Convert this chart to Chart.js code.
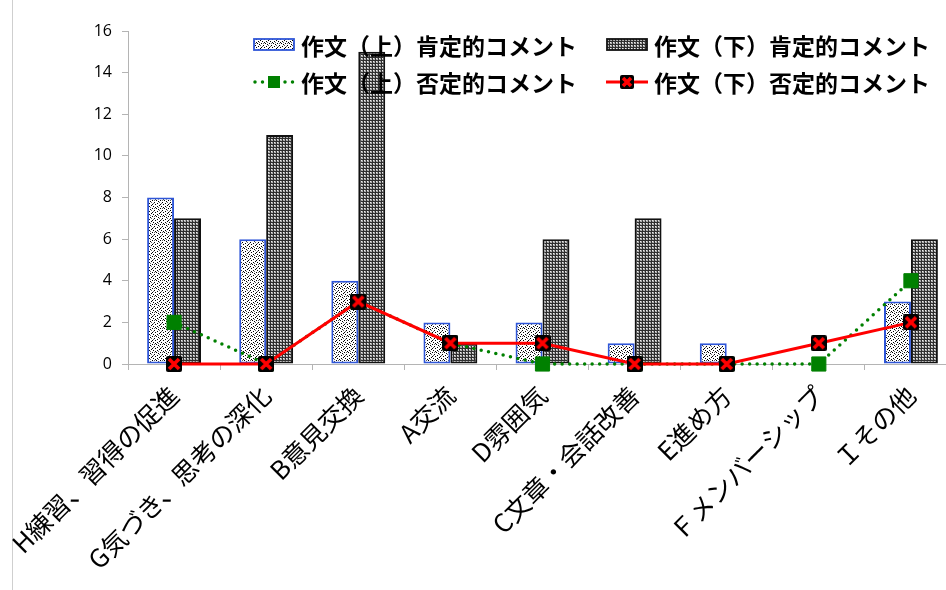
<!DOCTYPE html>
<html>
<head>
<meta charset="utf-8">
<script src="https://cdn.jsdelivr.net/npm/chart.js@4"></script>
<style>
  html, body { margin: 0; padding: 0; background: #fff; overflow: hidden; width: 946px; height: 590px; }
  #wrap { position: relative; width: 946px; height: 590px; overflow: hidden; background: #fff; }
  #frame { position: absolute; left: 12px; top: 0; width: 1px; height: 590px; background: #cfcfcf; z-index: 0; }
  #chart { position: absolute; left: 0; top: 0; z-index: 1; }
  #legend { position: absolute; left: 0; top: 0; z-index: 3; }
  .lg { position: absolute; height: 32px; display: flex; align-items: center; white-space: nowrap;
        font-family: "Noto Sans CJK JP", sans-serif; font-weight: bold; font-size: 23px; color: #000; }
  .lg canvas { margin-right: 6px; }
</style>
</head>
<body>
<div id="wrap">
  <div id="frame"></div>
  <canvas id="chart" width="968" height="590"></canvas>
  <div id="legend"></div>
</div>
<script>
// Categories on the horizontal axis
const categories = [
  'H練習、習得の促進',
  'G気づき、思考の深化',
  'B意見交換',
  'A交流',
  'D雰囲気',
  'C文章・会話改善',
  'E進め方',
  'Ｆメンバーシップ',
  'Ｉその他'
];

// Series labels
const seriesLabels = [
  '作文（上）肯定的コメント',
  '作文（下）肯定的コメント',
  '作文（上）否定的コメント',
  '作文（下）否定的コメント'
];

// Comment counts per category
const upperPositive = [8, 6, 4, 2, 2, 1, 1, 0, 3];
const lowerPositive = [7, 11, 15, 1, 6, 7, 0, 0, 6];
const upperNegative = [2, 0, 3, 1, 0, 0, 0, 0, 4];
const lowerNegative = [0, 0, 3, 1, 1, 0, 0, 1, 2];

// Value axis ticks
const yTicks = [0, 2, 4, 6, 8, 10, 12, 14, 16];

// ---- fill patterns and markers ----
function stippleTile() {
  const c = document.createElement('canvas');
  c.width = 8; c.height = 8;
  const g = c.getContext('2d');
  g.fillStyle = '#fff'; g.fillRect(0, 0, 8, 8);
  g.fillStyle = '#000';
  [[0,0],[4,0],[6,1],[2,2],[5,3],[0,4],[3,4],[7,5],[1,6],[5,6],[3,7]].forEach(([x, y]) => g.fillRect(x, y, 1, 1));
  g.fillStyle = '#666';
  [[2,0],[7,2],[1,3],[6,7]].forEach(([x, y]) => g.fillRect(x, y, 1, 1));
  return c;
}
function gridTile() {
  const c = document.createElement('canvas');
  c.width = 3; c.height = 3;
  const g = c.getContext('2d');
  g.fillStyle = '#2e2e2e'; g.fillRect(0, 0, 3, 3);
  g.fillStyle = '#f0f0f0'; g.fillRect(1, 1, 1, 1);
  g.fillStyle = '#a0a0a0'; g.fillRect(2, 1, 1, 1); g.fillRect(1, 2, 1, 1);
  g.fillStyle = '#b8b8b8'; g.fillRect(2, 2, 1, 1);
  return c;
}
function crossMarker(size) {
  const c = document.createElement('canvas');
  c.width = size; c.height = size;
  const g = c.getContext('2d');
  g.fillStyle = '#000';
  g.beginPath();
  if (g.roundRect) g.roundRect(0, 0, size, size, 2); else g.rect(0, 0, size, size);
  g.fill();
  g.strokeStyle = '#ff0000';
  g.lineWidth = 3.6;
  g.beginPath();
  g.moveTo(3, 3); g.lineTo(size - 3, size - 3);
  g.moveTo(size - 3, 3); g.lineTo(3, size - 3);
  g.stroke();
  return c;
}

const ctx = document.getElementById('chart').getContext('2d');
const stipple = ctx.createPattern(stippleTile(), 'repeat');
const grid = ctx.createPattern(gridTile(), 'repeat');
const xMark = crossMarker(16);

const AXIS = '#b4b4b4';
const GREEN = '#008000';
const RED = '#ff0000';
const BLUE = '#2f56d8';
const DARK = '#111';

new Chart(ctx, {
  type: 'bar',
  data: {
    labels: categories,
    datasets: [
      {
        type: 'line', label: seriesLabels[3], data: lowerNegative, order: 0,
        borderColor: RED, borderWidth: 3, tension: 0, clip: false,
        pointStyle: xMark, pointRadius: 8, pointHoverRadius: 8
      },
      {
        type: 'line', label: seriesLabels[2], data: upperNegative, order: 1,
        borderColor: GREEN, borderWidth: 3.5, borderDash: [0, 7.5], borderCapStyle: 'round',
        tension: 0, clip: false,
        pointStyle: 'rect', pointRadius: 10, pointBackgroundColor: GREEN, pointBorderColor: GREEN,
        pointBorderWidth: 1
      },
      {
        label: seriesLabels[0], data: upperPositive, order: 2,
        backgroundColor: stipple, borderColor: BLUE, borderWidth: 2, borderSkipped: false,
        categoryPercentage: 0.585, barPercentage: 1
      },
      {
        label: seriesLabels[1], data: lowerPositive, order: 3,
        backgroundColor: grid, borderColor: DARK, borderWidth: 2, borderSkipped: false,
        categoryPercentage: 0.585, barPercentage: 1
      }
    ]
  },
  options: {
    responsive: false,
    animation: false,
    devicePixelRatio: 1,
    layout: { padding: { left: 0, top: 31, right: 4, bottom: 0 } },
    plugins: { legend: { display: false }, tooltip: { enabled: false } },
    scales: {
      x: {
        offset: true,
        grid: { offset: true, drawOnChartArea: false, tickLength: 6, color: AXIS },
        border: { color: AXIS, width: 1 },
        ticks: {
          autoSkip: false, minRotation: 45, maxRotation: 45, padding: 10,
          color: '#000', font: { family: '"Noto Sans CJK JP"', size: 25.5 }
        },
        afterFit(s) { s.height = 226; s.paddingLeft = 0; s.paddingRight = 0; }
      },
      y: {
        min: 0, max: 16,
        grid: { drawOnChartArea: false, tickLength: 6, color: AXIS },
        border: { color: AXIS, width: 1 },
        ticks: { color: '#000', padding: 10, font: { family: '"Open Sans"', size: 16 } },
        afterBuildTicks(s) { s.ticks = yTicks.map(v => ({ value: v })); },
        afterFit(s) { s.width = 128; }
      }
    }
  }
});

// ---- legend ----
function legendSymbol(kind) {
  const c = document.createElement('canvas');
  c.width = 42; c.height = 20;
  const g = c.getContext('2d');
  if (kind === 0 || kind === 1) {
    g.fillStyle = g.createPattern(kind === 0 ? stippleTile() : gridTile(), 'repeat');
    g.fillRect(1, 4, 40, 11);
    g.strokeStyle = kind === 0 ? BLUE : DARK;
    g.lineWidth = 1.8;
    g.strokeRect(1, 4, 40, 11);
  } else if (kind === 2) {
    g.strokeStyle = GREEN; g.lineWidth = 3.5; g.lineCap = 'round';
    g.setLineDash([0, 7.5]);
    g.beginPath(); g.moveTo(2, 10); g.lineTo(40, 10); g.stroke();
    g.fillStyle = GREEN; g.fillRect(15, 4, 12, 12);
  } else {
    g.strokeStyle = RED; g.lineWidth = 3;
    g.beginPath(); g.moveTo(0, 10); g.lineTo(42, 10); g.stroke();
    g.drawImage(crossMarker(14), 14, 3);
  }
  return c;
}
const legendPos = [[253, 29], [606, 29], [253, 66], [606, 66]];
const legendEl = document.getElementById('legend');
[0, 1, 2, 3].forEach(i => {
  const d = document.createElement('div');
  d.className = 'lg';
  d.style.left = legendPos[i][0] + 'px';
  d.style.top = legendPos[i][1] + 'px';
  d.appendChild(legendSymbol(i));
  const s = document.createElement('span');
  s.textContent = seriesLabels[i];
  d.appendChild(s);
  legendEl.appendChild(d);
});
</script>
</body>
</html>
